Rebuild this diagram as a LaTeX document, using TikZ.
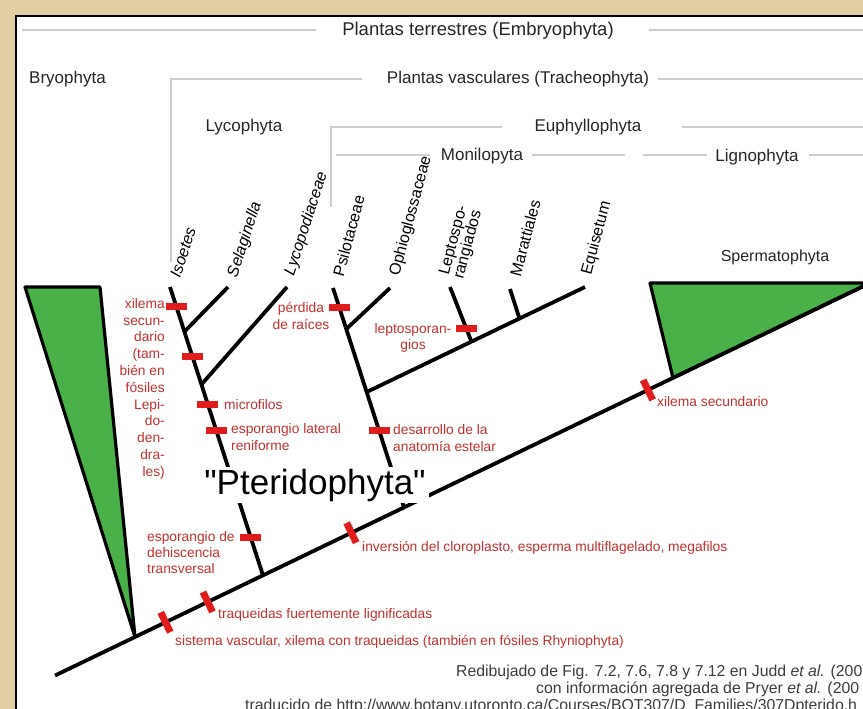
\documentclass[tikz,border=0pt]{standalone}
\usepackage{fontspec}
\setmainfont[Ligatures=TeXOff]{Liberation Sans}
\usetikzlibrary{calc}
\definecolor{parch}{RGB}{226,206,162}
\definecolor{gline}{RGB}{205,205,205}
\definecolor{hdr}{RGB}{38,38,38}
\definecolor{redtxt}{RGB}{196,48,48}
\definecolor{redmk}{RGB}{224,28,28}
\definecolor{leaf}{RGB}{74,176,72}
\definecolor{foot}{RGB}{60,60,60}
\begin{document}
\begin{tikzpicture}[x=1pt,y=-1pt,
  hdrtext/.style={text=hdr, font=\fontsize{17}{20}\selectfont, inner sep=0pt},
  taxbase/.style={anchor=west, inner sep=0pt, text=black},
  taxon/.style={taxbase, rotate=75, font=\fontsize{16}{16}\selectfont},
  itaxon/.style={taxbase, rotate=72, font=\fontsize{16}{16}\selectfont\itshape},
  guide/.style={draw=gline, line width=1.2pt},
  branch/.style={draw=black, line width=3.8pt},
  hmark/.style={fill=redmk, minimum width=21pt, minimum height=7pt, inner sep=0pt},
  bmark/.style={fill=redmk, minimum width=7pt, minimum height=22pt, inner sep=0pt, rotate=25.7},
  note/.style={text=redtxt, font=\fontsize{13.8}{16.8}\selectfont, inner sep=0pt},
  clade/.style={fill=leaf, draw=black, line width=3.2pt, line join=round},
  foottext/.style={text=foot, font=\fontsize{15.8}{17}\selectfont, inner sep=0pt, anchor=west}
]
\useasboundingbox (0,0) rectangle (863,709);
\clip (0,0) rectangle (863,709);
\fill[parch] (0,0) rectangle (863,709);
\filldraw[fill=white, draw=black, line width=2pt] (16,16) rectangle (880,730);

% ---------- headers ----------
\node[hdrtext, font=\fontsize{18.5}{20}\selectfont] (emb) at (478,31) {Plantas terrestres (Embryophyta)};
\node[hdrtext, anchor=west] (bry) at (29,79) {Bryophyta};
\node[hdrtext] (tra) at (518,79) {Plantas vasculares (Tracheophyta)};
\node[hdrtext] (lyc) at (244,127) {Lycophyta};
\node[hdrtext] (eup) at (588,127) {Euphyllophyta};
\node[hdrtext] (mon) at (482,156) {Monilopyta};
\node[hdrtext] (lig) at (757,157) {Lignophyta};
\node[hdrtext, font=\fontsize{16}{18}\selectfont] (spe) at (775,257) {Spermatophyta};

% ---------- guide lines ----------
\coordinate (g1a) at (22,30);  \coordinate (g1b) at (316,30);
\coordinate (g1c) at (649,30); \coordinate (g1d) at (863,30);
\draw[guide] (g1a) -- (g1b);
\draw[guide] (g1c) -- (g1d);
\coordinate (g2v) at (171,262); \coordinate (g2a) at (171,79); \coordinate (g2b) at (362,79);
\coordinate (g2c) at (658,79); \coordinate (g2d) at (863,79);
\draw[guide] (g2v) -- (g2a) -- (g2b);
\draw[guide] (g2c) -- (g2d);
\coordinate (g3v) at (331,207); \coordinate (g3a) at (331,127); \coordinate (g3b) at (502,127);
\coordinate (g3c) at (682,127); \coordinate (g3d) at (863,127);
\draw[guide] (g3v) -- (g3a) -- (g3b);
\draw[guide] (g3c) -- (g3d);
\coordinate (g4a) at (336,155); \coordinate (g4b) at (430,155);
\coordinate (g4c) at (532,155); \coordinate (g4d) at (625,155);
\coordinate (g4e) at (643,155); \coordinate (g4f) at (707,155);
\coordinate (g4g) at (809,155); \coordinate (g4h) at (863,155);
\draw[guide] (g4a) -- (g4b);
\draw[guide] (g4c) -- (g4d);
\draw[guide] (g4e) -- (g4f);
\draw[guide] (g4g) -- (g4h);

% ---------- tree coordinates ----------
\coordinate (bbL) at (55,675.5);
\coordinate (bbR) at (870,283);
\coordinate (bryA) at (135,637);
\coordinate (bryL) at (25,287);
\coordinate (bryR) at (100,287);
\coordinate (speA) at (673,378);
\coordinate (speL) at (650,283);

\coordinate (lycB) at (263,575.4);
\coordinate (isoT) at (170,287);
\coordinate (selT) at (228,287);
\coordinate (lcpT) at (287,287);
\coordinate (selJ) at ($(lycB)!0.845!(isoT)$);
\coordinate (lcpJ) at ($(lycB)!0.662!(isoT)$);

\coordinate (euB) at (404,507.5);
\coordinate (psiT) at (333,288);
\coordinate (ophT) at (390,288);
\coordinate (ophJ) at ($(euB)!0.813!(psiT)$);
\coordinate (monJ) at ($(euB)!0.526!(psiT)$);
\coordinate (equT) at (585,287);
\coordinate (lepT) at (450,287);
\coordinate (marT) at (510,289);
\coordinate (lepJ) at ($(monJ)!0.48!(equT)$);
\coordinate (marJ) at ($(monJ)!0.70!(equT)$);

% ---------- clades ----------
\draw[clade] (bryL) -- (bryR) -- (bryA) -- cycle;
\draw[clade] (speL) -- (bbR) -- (speA) -- cycle;

% ---------- branches ----------
\draw[branch] (bbL) -- (bbR);
\draw[branch] (lycB) -- (isoT);
\draw[branch] (selJ) -- (selT);
\draw[branch] (lcpJ) -- (lcpT);
\draw[branch] (euB) -- (psiT);
\draw[branch] (ophJ) -- (ophT);
\draw[branch] (monJ) -- (equT);
\draw[branch] (lepJ) -- (lepT);
\draw[branch] (marJ) -- (marT);

% ---------- taxa ----------
\node[itaxon] (tIso) at (175,277) {Isoetes};
\node[itaxon] (tSel) at (233,277) {Selaginella};
\node[itaxon] (tLcp) at (290,275) {Lycopodiaceae};
\node[taxon] (tPsi) at (338,276) {Psilotaceae};
\node[taxon] (tOph) at (395,276) {Ophioglossaceae};
\node[taxbase, rotate=75, align=left, font=\fontsize{16}{15}\selectfont] (tLep) at (452,277) {Leptospo-\\rangiados};
\node[taxon] (tMar) at (515,276) {Marattiales};
\node[taxon] (tEqu) at (587,275) {Equisetum};

% ---------- markers on stems ----------
\node[hmark] (m1) at ($(lycB)!0.934!(isoT)$) {};
\node[hmark] (m2) at ($(lycB)!0.758!(isoT)$) {};
\node[hmark] (m3) at ($(lycB)!0.592!(isoT)$) {};
\node[hmark] (m4) at ($(lycB)!0.502!(isoT)$) {};
\node[hmark] (m5) at ($(lycB)!0.131!(isoT)$) {};
\node[hmark] (m6) at ($(euB)!0.913!(psiT)$) {};
\node[hmark] (m7) at ($(euB)!0.349!(psiT)$) {};
\node[hmark] (m8) at ($(lepJ)!0.232!(lepT)$) {};
% ---------- markers on backbone ----------
\node[bmark] (b1) at ($(bbL)!0.1356!(bbR)$) {};
\node[bmark] (b2) at ($(bbL)!0.1874!(bbR)$) {};
\node[bmark] (b3) at ($(bbL)!0.3637!(bbR)$) {};
\node[bmark] (b4) at ($(bbL)!0.7275!(bbR)$) {};

% ---------- red notes ----------
\node[note, align=right, anchor=north east] (n1) at (165,298) {xilema\\secun-\\dario\\(tam-\\bién en\\fósiles\\Lepi-\\do-\\den-\\dra-\\les)};
\node[note, align=center] (n2) at (301,316) {pérdida\\de raíces};
\node[note, align=center] (n3) at (413,338) {leptosporan-\\gios};
\node[note, anchor=west] (n4) at (224,405) {microfilos};
\node[note, align=left, anchor=north west] (n5) at (231,423) {esporangio lateral\\reniforme};
\node[note, align=left, anchor=north west] (n6) at (393,424) {desarrollo de la\\anatomía estelar};
\node[note, align=left, anchor=north west, font=\fontsize{13.8}{16}\selectfont] (n7) at (147,531) {esporangio de\\dehiscencia\\transversal};
\node[note, anchor=west] (n8) at (218,615) {traqueidas fuertemente lignificadas};
\node[note, anchor=west] (n9) at (175,642) {sistema vascular, xilema con traqueidas (también en fósiles Rhyniophyta)};
\node[note, anchor=west] (n10) at (362,548) {inversión del cloroplasto, esperma multiflagelado, megafilos};
\node[note, anchor=west] (n11) at (657,402) {xilema secundario};

% ---------- Pteridophyta ----------
\node[fill=white, inner xsep=3pt, inner ysep=2pt, font=\fontsize{35}{38}\selectfont, text=black] (pter) at (315,485) {"Pteridophyta"};

% ---------- footnote ----------
\node[foottext] (f1) at (456,672) {Redibujado de Fig. 7.2, 7.6, 7.8 y 7.12 en Judd \textit{et al.} (200};
\node[foottext] (f2) at (536,689) {con información agregada de Pryer \textit{et al.} (200};
\node[foottext] (f3) at (245,706) {traducido de http://www.botany.utoronto.ca/Courses/BOT307/D\_Families/307Dpterido.h};
\end{tikzpicture}
\end{document}
